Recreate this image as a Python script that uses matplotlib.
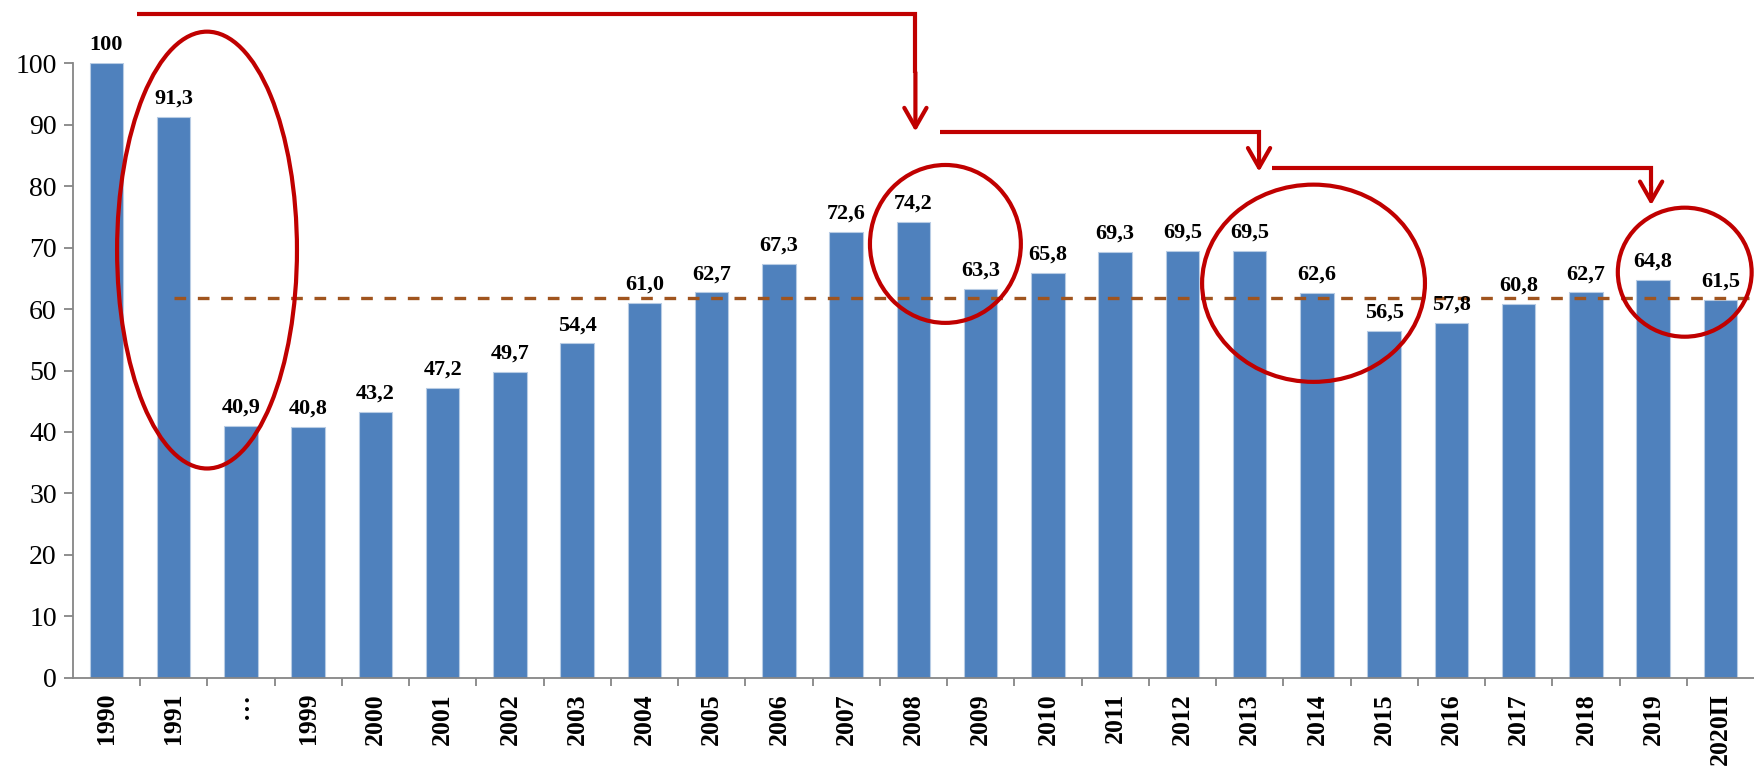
import matplotlib
matplotlib.use("Agg")
import matplotlib.pyplot as plt
from matplotlib.patches import Ellipse

# ---- data ----
categories = ["1990", "1991", "…", "1999", "2000", "2001", "2002", "2003", "2004",
              "2005", "2006", "2007", "2008", "2009", "2010", "2011", "2012", "2013",
              "2014", "2015", "2016", "2017", "2018", "2019", "2020П"]
values = [100, 91.3, 40.9, 40.8, 43.2, 47.2, 49.7, 54.4, 61.0, 62.7, 67.3, 72.6, 74.2,
          63.3, 65.8, 69.3, 69.5, 69.5, 62.6, 56.5, 57.8, 60.8, 62.7, 64.8, 61.5]
value_labels = ["100", "91,3", "40,9", "40,8", "43,2", "47,2", "49,7", "54,4", "61,0",
                "62,7", "67,3", "72,6", "74,2", "63,3", "65,8", "69,3", "69,5", "69,5",
                "62,6", "56,5", "57,8", "60,8", "62,7", "64,8", "61,5"]
ref_level = 61.8
yticks = list(range(0, 101, 10))

RED = "#C00000"
BAR = "#4F81BD"
SERIF = ["Liberation Serif", "DejaVu Serif"]

fig = plt.figure(figsize=(17.54, 7.69), dpi=100)
ax = fig.add_axes([0.0415, 0.1187, 0.9585, 0.799])

x = list(range(len(categories)))
ax.bar(x, values, width=0.5, color=BAR, edgecolor="#B8CCE4", linewidth=0.8, zorder=2)

for xi, v, lab in zip(x, values, value_labels):
    ax.annotate(lab, (xi, v), xytext=(0, 6), textcoords="offset points",
                ha="center", va="bottom", fontsize=16, fontweight="bold",
                family=SERIF, annotation_clip=False, zorder=4)

ax.set_xlim(-0.5, len(categories) - 0.5)
ax.set_ylim(0, 100)
ax.set_yticks(yticks)
ax.set_yticklabels([str(t) for t in yticks], family=SERIF, fontsize=20)

ax.set_xticks(x)
ax.set_xticklabels(categories, rotation=90, family=SERIF, fontsize=18.5, fontweight="bold")
ax.set_xticks([i - 0.5 for i in range(1, len(categories))], minor=True)
ax.tick_params(axis="x", which="major", length=0, pad=11)
ax.tick_params(axis="x", which="minor", length=5.5, width=1.3, color="#868686", direction="out")
ax.tick_params(axis="y", length=6.5, width=1.3, color="#868686", pad=5)

for s in ("top", "right"):
    ax.spines[s].set_visible(False)
for s in ("left", "bottom"):
    ax.spines[s].set_color("#868686")
    ax.spines[s].set_linewidth(1.3)

# reference dashed line
ax.plot([1, len(categories) - 0.5], [ref_level, ref_level], color="#A0541E", lw=2.4,
        dashes=(3.5, 3.5), zorder=3, clip_on=False)

# red ellipses
ellipses = [((1.496, 69.6), 2.675, 71.1),
            ((12.476, 70.6), 2.244, 25.7),
            ((17.95, 64.2), 3.314, 32.1),
            ((23.47, 66.0), 1.99, 21.0)]
for c, w, h in ellipses:
    ax.add_patch(Ellipse(c, w, h, fill=False, edgecolor=RED, lw=3, clip_on=False, zorder=5))

# red arrows
arrows = [((0.451, 108.1), (12.03, 108.1), (12.03, 88.9)),
          ((12.39, 88.77), (17.14, 88.77), (17.14, 82.36)),
          ((17.33, 83.0), (22.97, 83.0), (22.97, 76.9))]
for p0, p1, p2 in arrows:
    ax.plot([p0[0], p1[0], p1[0]], [p0[1], p1[1], (p1[1] + p2[1]) / 2], color=RED, lw=3,
            clip_on=False, solid_joinstyle="miter", solid_capstyle="butt", zorder=5)
    ax.annotate("", xy=p2, xytext=(p1[0], (p1[1] + p2[1]) / 2),
                arrowprops=dict(arrowstyle="->,head_length=0.7,head_width=0.4",
                                color=RED, lw=3, shrinkA=0, shrinkB=0,
                                mutation_scale=20),
                annotation_clip=False, zorder=5)

fig.savefig("out.png", dpi=100)
